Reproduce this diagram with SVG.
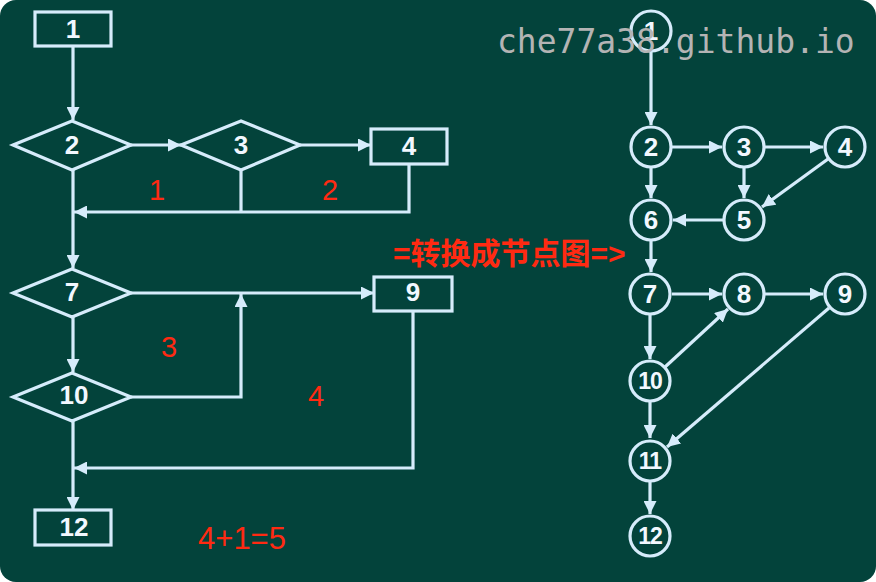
<svg xmlns="http://www.w3.org/2000/svg" width="876" height="582" viewBox="0 0 876 582">
<style>
.bg{fill:#03433b}
.shape{fill:none;stroke:#d6ecfb;stroke-width:3.2}
.circ{fill:#03433b;stroke:#d6ecfb;stroke-width:3.2}
.edge{fill:none;stroke:#d6ecfb;stroke-width:3.2;marker-end:url(#ah)}
.line{fill:none;stroke:#d6ecfb;stroke-width:3.2}
.lbl{font-family:"Liberation Sans",Arial,sans-serif;font-weight:bold;font-size:26px;fill:#f2f8ff;text-anchor:middle;dominant-baseline:central}
.sm{font-size:23px;letter-spacing:-1px}
.red{font-family:"Liberation Sans",Arial,sans-serif;font-size:29px;fill:#ff2a12;text-anchor:middle;dominant-baseline:central}
.cn{font-family:"Liberation Sans","Noto Sans CJK SC",sans-serif;font-weight:bold;font-size:30px;fill:#ff2a12}
.wm{font-family:"DejaVu Sans Mono","Liberation Mono",monospace;font-size:33px;fill:#b4b4b4}
</style>
<defs>
<marker id="ah" markerWidth="13" markerHeight="13" refX="13" refY="6.5" orient="auto" markerUnits="userSpaceOnUse">
<path d="M0,0 L13,6.5 L0,13 z" fill="#d6ecfb"/>
</marker>
</defs>
<rect x="0" y="0" width="876" height="582" fill="#ffffff"/>
<rect class="bg" x="0" y="0" width="876" height="582" rx="16" ry="16"/>

<g id="connectors">
<line class="edge" x1="73" y1="46" x2="73" y2="120"/>
<line class="edge" x1="131" y1="145" x2="181" y2="145"/>
<line class="edge" x1="300" y1="145" x2="371" y2="145"/>
<polyline class="edge" points="409,164 409,212 74,212"/>
<line class="line" x1="241" y1="170" x2="241" y2="212"/>
<line class="edge" x1="73" y1="170" x2="73" y2="268"/>
<line class="edge" x1="131" y1="293" x2="374" y2="293"/>
<polyline class="edge" points="131,397 241,397 241,294"/>
<polyline class="edge" points="413,311 413,468 74,468"/>
<line class="edge" x1="73" y1="317" x2="73" y2="372"/>
<line class="edge" x1="73" y1="421" x2="73" y2="510"/>

<line class="edge" x1="651" y1="52" x2="651" y2="125"/>
<line class="edge" x1="672" y1="147" x2="722" y2="147"/>
<line class="edge" x1="765" y1="147" x2="823" y2="147"/>
<line class="edge" x1="651" y1="168" x2="651" y2="198"/>
<line class="edge" x1="744" y1="168" x2="744" y2="198"/>
<line class="edge" x1="828" y1="159" x2="762" y2="207"/>
<line class="edge" x1="723" y1="220" x2="673" y2="220"/>
<line class="edge" x1="651" y1="241" x2="651" y2="272"/>
<line class="edge" x1="672" y1="294" x2="722" y2="294"/>
<line class="edge" x1="765" y1="294" x2="823" y2="294"/>
<line class="edge" x1="650" y1="315" x2="650" y2="359"/>
<line class="edge" x1="665" y1="367" x2="728" y2="309"/>
<line class="edge" x1="650" y1="402" x2="650" y2="438"/>
<line class="edge" x1="829" y1="308" x2="667" y2="447"/>
<line class="edge" x1="650" y1="482" x2="650" y2="514"/>
</g>

<g id="f1"><rect class="shape" x="35" y="12" width="76" height="34"/><text class="lbl" x="73" y="29">1</text></g>
<g id="f2"><polygon class="shape" points="13,145 72,121 131,145 72,170"/><text class="lbl" x="72" y="145">2</text></g>
<g id="f3"><polygon class="shape" points="181,145 241,121 300,145 241,170"/><text class="lbl" x="241" y="145">3</text></g>
<g id="f4"><rect class="shape" x="371" y="129" width="76" height="35"/><text class="lbl" x="409" y="146">4</text></g>
<g id="f7"><polygon class="shape" points="13,293 72,269 131,293 72,317"/><text class="lbl" x="72" y="292">7</text></g>
<g id="f9"><rect class="shape" x="374" y="277" width="78" height="34"/><text class="lbl" x="413" y="292">9</text></g>
<g id="f10"><polygon class="shape" points="13,397 72,373 131,397 72,421"/><text class="lbl" x="74" y="395">10</text></g>
<g id="f12"><rect class="shape" x="35" y="510" width="76" height="35"/><text class="lbl" x="74" y="527">12</text></g>

<g id="n1"><circle class="circ" cx="651" cy="31" r="20"/><text class="lbl" x="651" y="31">1</text></g>
<g id="n2"><circle class="circ" cx="651" cy="147" r="20"/><text class="lbl" x="651" y="147">2</text></g>
<g id="n3"><circle class="circ" cx="744" cy="147" r="20"/><text class="lbl" x="744" y="147">3</text></g>
<g id="n4"><circle class="circ" cx="845" cy="147" r="20"/><text class="lbl" x="845" y="147">4</text></g>
<g id="n5"><circle class="circ" cx="744" cy="220" r="20"/><text class="lbl" x="744" y="220">5</text></g>
<g id="n6"><circle class="circ" cx="651" cy="220" r="20"/><text class="lbl" x="651" y="220">6</text></g>
<g id="n7"><circle class="circ" cx="650" cy="294" r="20"/><text class="lbl" x="650" y="294">7</text></g>
<g id="n8"><circle class="circ" cx="744" cy="294" r="20"/><text class="lbl" x="744" y="294">8</text></g>
<g id="n9"><circle class="circ" cx="845" cy="294" r="20"/><text class="lbl" x="845" y="294">9</text></g>
<g id="n10"><circle class="circ" cx="650" cy="381" r="20"/><text class="lbl sm" x="650" y="381">10</text></g>
<g id="n11"><circle class="circ" cx="650" cy="461" r="20"/><text class="lbl sm" x="650" y="461">11</text></g>
<g id="n12"><circle class="circ" cx="650" cy="536" r="20"/><text class="lbl sm" x="650" y="536">12</text></g>

<g id="annotations">
<text class="red" x="157" y="190">1</text>
<text class="red" x="330" y="190">2</text>
<text class="red" x="169" y="347">3</text>
<text class="red" x="316" y="396">4</text>
<text class="red" x="242" y="538" style="font-size:31px">4+1=5</text>
<text class="cn" x="393" y="264">=转换成节点图=&gt;</text>
<text class="wm" x="497" y="53">che77a38.github.io</text>
</g>
</svg>
